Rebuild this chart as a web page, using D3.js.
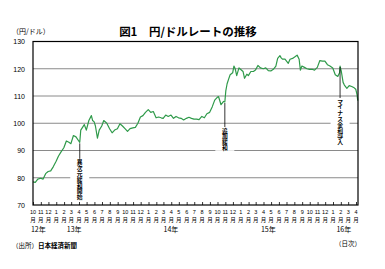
<!DOCTYPE html>
<html>
<head>
<meta charset="utf-8">
<script src="https://cdn.jsdelivr.net/npm/d3@7"></script>
<style>
  body { margin: 0; background: #fff; }
  svg { font-family: "Noto Sans CJK JP", "Noto Sans", sans-serif; }
</style>
</head>
<body>
<div id="vis"></div>
<script>
// values (roughly every 10 days)
var dates = [
  "2012-10-01","2012-10-10","2012-10-20","2012-10-31","2012-11-10","2012-11-20","2012-11-30",
  "2012-12-10","2012-12-20","2012-12-31","2013-01-10","2013-01-20","2013-01-31","2013-02-10",
  "2013-02-20","2013-02-28","2013-03-10","2013-03-20","2013-03-31","2013-04-04","2013-04-08",
  "2013-04-15","2013-04-22","2013-04-30","2013-05-10","2013-05-20","2013-05-25","2013-05-31",
  "2013-06-05","2013-06-13","2013-06-20","2013-06-30","2013-07-08","2013-07-20","2013-07-31",
  "2013-08-10","2013-08-20","2013-08-31","2013-09-10","2013-09-20","2013-09-30","2013-10-10",
  "2013-10-20","2013-10-31","2013-11-10","2013-11-20","2013-11-30","2013-12-10","2013-12-20",
  "2013-12-31","2014-01-10","2014-01-20","2014-01-31","2014-02-10","2014-02-20","2014-02-28",
  "2014-03-10","2014-03-20","2014-03-31","2014-04-10","2014-04-20","2014-04-30","2014-05-10",
  "2014-05-20","2014-05-31","2014-06-10","2014-06-20","2014-06-30","2014-07-10","2014-07-20",
  "2014-07-31","2014-08-10","2014-08-20","2014-08-31","2014-09-10","2014-09-20","2014-09-30",
  "2014-10-05","2014-10-15","2014-10-25","2014-10-30","2014-11-03","2014-11-08","2014-11-14",
  "2014-11-20","2014-11-30","2014-12-05","2014-12-10","2014-12-16","2014-12-25","2014-12-31",
  "2015-01-10","2015-01-16","2015-01-25","2015-01-31","2015-02-10","2015-02-20","2015-02-28",
  "2015-03-10","2015-03-20","2015-03-31","2015-04-10","2015-04-20","2015-04-30","2015-05-10",
  "2015-05-20","2015-05-27","2015-06-05","2015-06-10","2015-06-15","2015-06-25","2015-07-08",
  "2015-07-15","2015-07-25","2015-08-05","2015-08-12","2015-08-20","2015-08-25","2015-08-31",
  "2015-09-10","2015-09-20","2015-09-30","2015-10-10","2015-10-20","2015-10-31","2015-11-10",
  "2015-11-20","2015-11-30","2015-12-10","2015-12-20","2015-12-31","2016-01-10","2016-01-20",
  "2016-01-27","2016-01-29","2016-02-03","2016-02-10","2016-02-15","2016-02-25","2016-03-05",
  "2016-03-15","2016-03-25","2016-03-31","2016-04-05","2016-04-08"
];
var rates = [
  78.5,78.3,79.5,79.8,79.5,81.5,82.3,
  82.5,84.0,86.0,88.0,89.5,91.0,93.5,
  93.0,92.5,95.5,95.0,93.5,93.0,97.5,
  98.5,99.5,97.5,101.0,102.8,101.0,100.5,
  99.0,94.5,97.5,99.0,101.0,100.0,98.0,
  96.5,97.5,98.0,99.8,99.0,98.0,97.0,
  98.0,98.3,98.5,100.0,102.3,102.8,104.0,
  105.0,104.0,104.3,102.0,102.3,102.0,101.8,
  103.0,102.5,103.0,101.8,102.5,102.0,101.8,
  101.2,101.8,102.2,101.8,101.5,101.5,101.3,
  102.5,102.0,103.5,104.0,106.0,108.5,109.5,
  109.8,106.8,108.0,107.8,112.0,114.5,116.2,
  117.8,118.5,121.0,120.0,117.5,120.3,119.8,
  119.0,116.5,118.0,117.5,119.0,119.0,119.5,
  121.2,120.3,120.0,120.3,119.3,119.2,119.8,
  121.0,123.8,124.8,124.0,123.5,123.5,122.0,
  123.5,123.8,124.5,125.0,123.5,119.5,121.0,
  120.5,120.0,119.8,119.8,119.5,120.5,123.0,
  122.8,122.8,121.5,121.0,120.3,117.8,117.2,
  118.5,121.0,119.0,115.0,114.0,112.8,113.8,
  113.5,113.0,112.5,110.5,108.3
];
var yTicks = [70, 80, 90, 100, 110, 120, 130];
var yearLabels = ["12年", "13年", "14年", "15年", "16年"];
var yearAnchors = ["2012-10-22", "2013-03-13", "2014-03-31", "2015-04-20", "2016-02-13"];
var events = ["異次元緩和開始", "追加緩和", "マイナス金利導入"];
var eventDates = ["2013-04-04", "2014-10-30", "2016-01-29"];

var W = 385, H = 269,
    pl = 33, pr = 358, pt = 41.5, pb = 205;

var parse = d3.timeParse("%Y-%m-%d");
var series = dates.map(function (d, i) { return { date: parse(d), v: rates[i] }; });

var x = d3.scaleTime()
    .domain([new Date(2012, 9, 1), new Date(2016, 3, 1)])
    .range([pl, 356]);
var y = d3.scaleLinear().domain([70, 130]).range([pb, pt]);

var svg = d3.select("#vis").append("svg").attr("width", W).attr("height", H);

// title
svg.append("text").attr("x", 188).attr("y", 36).attr("text-anchor", "middle")
    .attr("font-size", 11.5).attr("font-weight", "bold").text("図1　円/ドルレートの推移");
svg.append("text").attr("x", 12).attr("y", 34).attr("font-size", 7).text("（円/ドル）");

// grid
svg.append("g").selectAll("line").data(yTicks.filter(function (t) { return t > 70 && t < 130; }))
  .enter().append("line")
    .attr("x1", pl).attr("x2", pr)
    .attr("y1", function (d) { return y(d); }).attr("y2", function (d) { return y(d); })
    .attr("stroke", "#8a8a8a").attr("stroke-width", 1);

// y labels
var yAxis = svg.append("g").attr("transform", "translate(" + pl + ",0)")
    .call(d3.axisLeft(y).tickValues(yTicks).tickSize(0).tickPadding(8));
yAxis.select(".domain").remove();
yAxis.selectAll("text").attr("font-size", 7).attr("font-family", "Liberation Sans, Arial, sans-serif");

// line
var line = d3.line().x(function (d) { return x(d.date); }).y(function (d) { return y(d.v); });
svg.append("path").datum(series).attr("d", line)
    .attr("fill", "none").attr("stroke", "#2f9a4a").attr("stroke-width", 1.2)
    .attr("stroke-linejoin", "round");

// event annotations (leader line down to a vertical label)
var lineLen = [14.5, 23, 30];
var bis = d3.bisector(function (s) { return s.date; }).left;
events.forEach(function (ev, i) {
  var d = parse(eventDates[i]);
  var p = series[Math.min(bis(series, d), series.length - 1)];
  var ex = x(d), y0 = y(p.v) + 1, y1 = y0 + lineLen[i];
  var th = ev.length * 5.7 + 2;
  svg.append("rect").attr("x", ex - 9.5).attr("y", y1).attr("width", 19).attr("height", th)
      .attr("fill", "#fff");
  svg.append("line").attr("x1", ex).attr("x2", ex).attr("y1", y0).attr("y2", y1 + 1)
      .attr("stroke", "#000").attr("stroke-width", 0.8);
  svg.append("text").attr("x", ex).attr("y", y1 + 1.5)
      .style("writing-mode", "vertical-rl")
      .attr("font-size", 5.8).attr("font-weight", "bold").text(ev);
});

// frame
svg.append("rect").attr("x", pl).attr("y", pt).attr("width", pr - pl).attr("height", pb - pt)
    .attr("fill", "none").attr("stroke", "#000").attr("stroke-width", 1.2);

// x ticks and labels
var months = d3.timeMonth.range(new Date(2012, 9, 1), new Date(2016, 4, 1));
var xAxis = svg.append("g").attr("transform", "translate(0," + pb + ")")
    .call(d3.axisBottom(x).tickValues(months).tickSizeInner(-3).tickSizeOuter(0).tickFormat(""));
xAxis.select(".domain").remove();
xAxis.selectAll("line").attr("stroke", "#000").attr("stroke-width", 0.8);

var ml = svg.append("g").attr("font-size", 5.5).attr("text-anchor", "middle")
    .attr("font-family", "Liberation Sans, Arial, sans-serif");
ml.selectAll("text.m").data(months).enter().append("text").attr("class", "m")
    .attr("x", function (d) { return x(d); }).attr("y", 214)
    .text(function (d) { return d.getMonth() + 1; });
ml.selectAll("text.g").data(months).enter().append("text").attr("class", "g")
    .attr("x", function (d) { return x(d); }).attr("y", 221.5)
    .attr("font-family", "Noto Sans CJK JP").attr("font-size", 5.5)
    .text("月");

svg.append("g").selectAll("text").data(yearLabels).enter().append("text")
    .attr("x", function (d, i) { return x(parse(yearAnchors[i])); }).attr("y", 232)
    .attr("text-anchor", "middle").attr("font-size", 7).text(function (d) { return d; });

svg.append("text").attr("x", 348).attr("y", 246).attr("text-anchor", "middle")
    .attr("font-size", 6.5).text("（日次）");

var src = svg.append("text").attr("x", 12).attr("y", 248).attr("font-size", 6.5);
src.append("tspan").text("（出所）");
src.append("tspan").attr("font-weight", "bold").text("日本経済新聞");
</script>
</body>
</html>
